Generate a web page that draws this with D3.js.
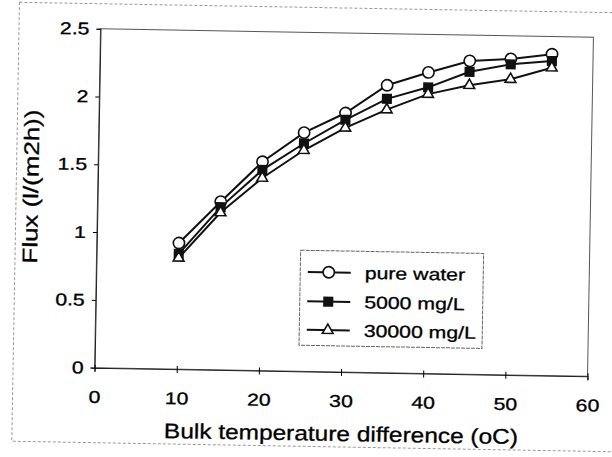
<!DOCTYPE html>
<html>
<head>
<meta charset="utf-8">
<script src="https://cdn.jsdelivr.net/npm/d3@7"></script>
<style>
body { margin: 0; background: #fff; }
text { font-family: "Liberation Sans", Arial, sans-serif; fill: #000; stroke: #000; stroke-width: 0.3px; }
</style>
</head>
<body>
<script>
var width = 612,
    height = 457;

// data
var temps = [10, 15, 20, 25, 30, 35, 40, 45, 50, 55];
var pureWater = [0.93, 1.24, 1.54, 1.76, 1.91, 2.12, 2.22, 2.31, 2.33, 2.37];
var mg5000 = [0.85, 1.20, 1.48, 1.68, 1.86, 2.02, 2.11, 2.23, 2.29, 2.32];
var mg30000 = [0.82, 1.16, 1.42, 1.63, 1.80, 1.94, 2.06, 2.13, 2.18, 2.27];
var seriesNames = ["pure water", "5000 mg/L", "30000 mg/L"];
var xTicks = [0, 10, 20, 30, 40, 50, 60];
var yTicks = [0, 0.5, 1, 1.5, 2, 2.5];

var series = [
  {name: seriesNames[0], values: pureWater, sym: d3.symbolCircle, size: 100, fill: "#fff"},
  {name: seriesNames[1], values: mg5000, sym: d3.symbolSquare, size: 72, fill: "#111"},
  {name: seriesNames[2], values: mg30000, sym: d3.symbolTriangle, size: 50, fill: "#fff"}
];

var plotL = 97.5, plotR = 590.5, plotT = 33, plotB = 372;
var sx = 1.25; // the scan is stretched sideways

var svg = d3.select("body").append("svg")
    .attr("width", width)
    .attr("height", height);

// whole scan is tilted a little
var g = svg.append("g")
    .attr("transform", "rotate(1,344,202.5)");

g.append("rect")
    .attr("x", 16).attr("y", 8)
    .attr("width", 640).attr("height", 439)
    .attr("fill", "none")
    .attr("stroke", "#999")
    .attr("stroke-dasharray", "3,2");

var x = d3.scaleLinear().domain([0, 60]).range([plotL, plotR]);
var y = d3.scaleLinear().domain([0, 2.5]).range([plotB, plotT]);

g.append("rect")
    .attr("x", plotL).attr("y", plotT)
    .attr("width", plotR - plotL).attr("height", plotB - plotT)
    .attr("fill", "none")
    .attr("stroke", "#555")
    .attr("stroke-width", 1);

var yAxis = g.append("g")
    .attr("transform", "translate(" + plotL + ",0)")
    .call(d3.axisLeft(y).tickValues(yTicks).tickSize(4).tickFormat(d3.format("~g")));
yAxis.select(".domain").attr("stroke", "#222");
yAxis.selectAll("text")
    .attr("x", -11 / sx)
    .attr("transform", "scale(" + sx + ",1)")
    .style("font-size", "17px");

var xAxis = g.append("g")
    .attr("transform", "translate(0," + plotB + ")")
    .call(d3.axisBottom(x).tickValues(xTicks).tickSize(4).tickPadding(19));
xAxis.select(".domain").attr("stroke", "#222");
xAxis.selectAll("text")
    .attr("transform", "scale(" + sx + ",1)")
    .style("font-size", "17px");
xAxis.selectAll(".tick line").attr("y1", -3);

var line = d3.line()
    .x(function(d, i) { return x(temps[i]); })
    .y(function(d) { return y(d); });

series.forEach(function(s) {
  g.append("path")
      .datum(s.values)
      .attr("d", line)
      .attr("fill", "none")
      .attr("stroke", "#111")
      .attr("stroke-width", 2);
});

series.forEach(function(s) {
  g.selectAll(null)
      .data(s.values)
    .enter().append("path")
      .attr("d", d3.symbol().type(s.sym).size(s.size))
      .attr("transform", function(d, i) {
        return "translate(" + x(temps[i]) + "," + y(d) + ")";
      })
      .attr("fill", s.fill)
      .attr("stroke", "#111")
      .attr("stroke-width", 1.6);
});

g.append("text")
    .attr("x", 345)
    .attr("y", 441)
    .attr("text-anchor", "middle")
    .attr("textLength", 354)
    .attr("lengthAdjust", "spacingAndGlyphs")
    .style("font-size", "21px")
    .text("Bulk temperature difference (oC)");

g.append("text")
    .attr("transform", "translate(38,192) rotate(-90)")
    .attr("text-anchor", "middle")
    .attr("textLength", 154)
    .attr("lengthAdjust", "spacingAndGlyphs")
    .style("font-size", "21px")
    .text("Flux (l/(m2h))");

var legend = g.append("g");
legend.append("rect")
    .attr("x", 301.5).attr("y", 251)
    .attr("width", 183).attr("height", 95)
    .attr("fill", "#fff")
    .attr("stroke", "#666")
    .attr("stroke-dasharray", "4,1");

var item = legend.selectAll(".item")
    .data(series)
  .enter().append("g")
    .attr("transform", function(d, i) {
      return "translate(0," + [272.5, 302, 330.5][i] + ")";
    });

item.append("line")
    .attr("x1", 309).attr("x2", 352)
    .attr("stroke", "#111")
    .attr("stroke-width", 2);

item.append("path")
    .attr("d", function(d) { return d3.symbol().type(d.sym).size(d.size)(); })
    .attr("transform", "translate(330,0)")
    .attr("fill", function(d) { return d.fill; })
    .attr("stroke", "#111")
    .attr("stroke-width", 1.6);

item.append("text")
    .attr("x", 366 / sx)
    .attr("y", 6)
    .attr("transform", "scale(" + sx + ",1)")
    .style("font-size", "17px")
    .text(function(d) { return d.name; });
</script>
</body>
</html>
